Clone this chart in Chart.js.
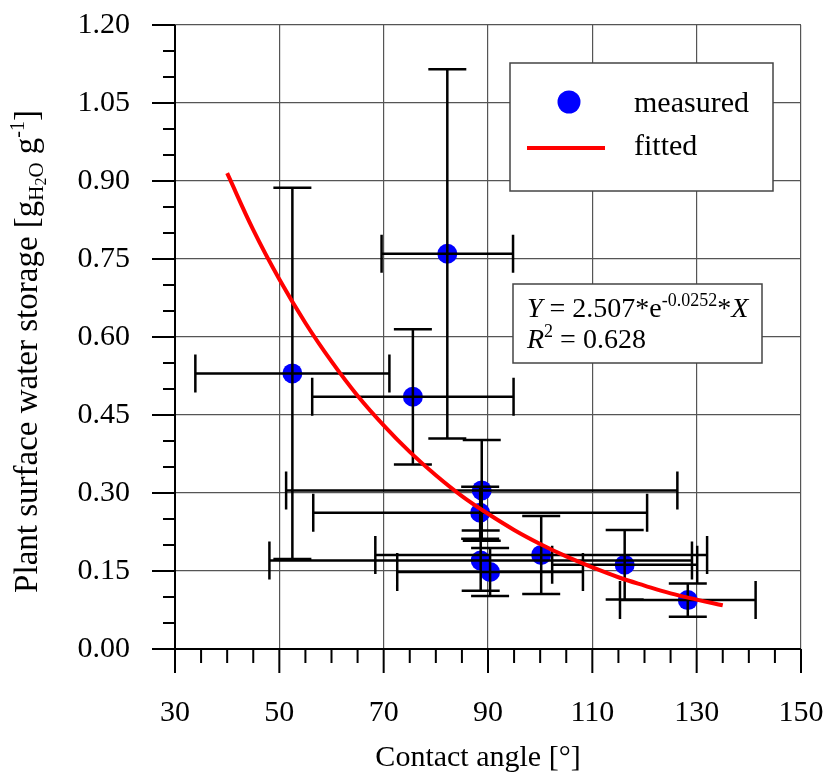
<!DOCTYPE html>
<html>
<head>
<meta charset="utf-8">
<script src="https://cdn.jsdelivr.net/npm/chart.js@4.4.1/dist/chart.umd.min.js"></script>
<style>
  html, body { margin: 0; padding: 0; background: #fff; }
</style>
</head>
<body>
<canvas id="chart" width="828" height="775"></canvas>
<script>
// measured points (contact angle in degrees, storage in g/g) with half-width error bars
const contactAngle = [52.5, 75.6, 82.2, 88.8, 88.5, 88.6, 100.2, 116.2, 90.4, 128.3];
const waterStorage = [0.530, 0.485, 0.760, 0.305, 0.262, 0.170, 0.181, 0.162, 0.148, 0.094];
const angleErr = [18.6, 19.3, 12.6, 37.5, 32.0, 40.5, 31.8, 13.9, 17.8, 13.0];
const storageErr = [0.357, 0.130, 0.355, 0.097, 0.050, 0.058, 0.075, 0.067, 0.046, 0.032];

// fitted curve
const fitAngle = [40, 45, 50, 55, 60, 65, 70, 75, 80, 85, 90, 95, 100, 105, 110, 115, 120, 125, 130, 135];
const fitStorage = [0.915, 0.806, 0.711, 0.627, 0.553, 0.487, 0.430, 0.379, 0.334, 0.294,
                    0.260, 0.229, 0.202, 0.178, 0.157, 0.138, 0.122, 0.107, 0.095, 0.084];

const xTicks = [30, 50, 70, 90, 110, 130, 150];
const yTicks = [0, 0.15, 0.30, 0.45, 0.60, 0.75, 0.90, 1.05, 1.20];

const FONT = '"Liberation Serif", "Times New Roman", serif';

function richText(ctx, x, y, parts, measureOnly) {
    let w = 0;
    parts.forEach(p => {
        ctx.font = (p.italic ? 'italic ' : '') + p.size + 'px ' + FONT;
        if (!measureOnly) ctx.fillText(p.t, x + w, y + (p.dy || 0));
        w += ctx.measureText(p.t).width;
    });
    return w;
}

// drop the label padding chart.js adds round the plot, the layout padding sets the area
function noPad(s) {
    s.paddingTop = 0; s.paddingBottom = 0; s.paddingLeft = 0; s.paddingRight = 0;
}

const decor = {
    id: 'decor',
    afterDatasetDraw(chart, args) {
        if (args.index !== 0) return;
        const ctx = chart.ctx, xs = chart.scales.x, ys = chart.scales.y;
        const cap = 19;
        ctx.save();
        ctx.strokeStyle = '#000';
        ctx.lineWidth = 2.5;
        ctx.beginPath();
        contactAngle.forEach((a, i) => {
            const px = xs.getPixelForValue(a), py = ys.getPixelForValue(waterStorage[i]);
            const x1 = xs.getPixelForValue(a - angleErr[i]), x2 = xs.getPixelForValue(a + angleErr[i]);
            const y1 = ys.getPixelForValue(waterStorage[i] + storageErr[i]);
            const y2 = ys.getPixelForValue(waterStorage[i] - storageErr[i]);
            ctx.moveTo(x1, py); ctx.lineTo(x2, py);
            ctx.moveTo(x1, py - cap); ctx.lineTo(x1, py + cap);
            ctx.moveTo(x2, py - cap); ctx.lineTo(x2, py + cap);
            ctx.moveTo(px, y1); ctx.lineTo(px, y2);
            ctx.moveTo(px - cap, y1); ctx.lineTo(px + cap, y1);
            ctx.moveTo(px - cap, y2); ctx.lineTo(px + cap, y2);
        });
        ctx.stroke();
        ctx.restore();
    },
    afterDraw(chart) {
        const ctx = chart.ctx, xs = chart.scales.x, ys = chart.scales.y;
        const a = chart.chartArea;
        ctx.save();
        // axes with outside ticks
        ctx.strokeStyle = '#000';
        ctx.lineWidth = 2;
        ctx.beginPath();
        ctx.moveTo(a.left, a.top); ctx.lineTo(a.left, a.bottom);
        ctx.moveTo(a.left, a.bottom); ctx.lineTo(a.right, a.bottom);
        for (let v = 30; v <= 150; v += 5) {
            const p = xs.getPixelForValue(v);
            ctx.moveTo(p, a.bottom); ctx.lineTo(p, a.bottom + (v % 20 === 10 ? 24 : 14));
        }
        for (let k = 0; k <= 24; k++) {
            const p = ys.getPixelForValue(k * 0.05);
            ctx.moveTo(a.left, p); ctx.lineTo(a.left - (k % 3 === 0 ? 23 : 12), p);
        }
        ctx.stroke();

        ctx.fillStyle = '#000';
        ctx.textBaseline = 'alphabetic';
        // x title
        ctx.font = '30px ' + FONT;
        ctx.textAlign = 'center';
        ctx.fillText('Contact angle [\u00b0]', 478, 766);
        ctx.textAlign = 'left';

        // y title, rotated
        const yParts = [
            { t: 'Plant surface water storage [g', size: 33 },
            { t: 'H', size: 21, dy: 6 },
            { t: '2', size: 16, dy: 9 },
            { t: 'O', size: 21, dy: 6 },
            { t: ' g', size: 33 },
            { t: '-1', size: 20, dy: -13 },
            { t: ']', size: 33 }
        ];
        const tw = richText(ctx, 0, 0, yParts, true);
        ctx.save();
        ctx.translate(37, 110 + tw);
        ctx.rotate(-Math.PI / 2);
        richText(ctx, 0, 0, yParts);
        ctx.restore();

        // legend box
        ctx.fillStyle = '#fff';
        ctx.fillRect(510, 63, 263, 128);
        ctx.strokeStyle = '#444';
        ctx.lineWidth = 1.5;
        ctx.strokeRect(510, 63, 263, 128);
        ctx.fillStyle = '#0000ff';
        ctx.beginPath();
        ctx.arc(569, 102, 11.5, 0, Math.PI * 2);
        ctx.fill();
        ctx.strokeStyle = '#ff0000';
        ctx.lineWidth = 4;
        ctx.beginPath();
        ctx.moveTo(527, 148); ctx.lineTo(605, 148);
        ctx.stroke();
        ctx.fillStyle = '#000';
        ctx.font = '30px ' + FONT;
        ctx.fillText('measured', 634, 112);
        ctx.fillText('fitted', 634, 155);

        // equation box
        ctx.fillStyle = '#fff';
        ctx.fillRect(513, 284, 249, 79);
        ctx.strokeStyle = '#444';
        ctx.lineWidth = 1.5;
        ctx.strokeRect(513, 284, 249, 79);
        ctx.fillStyle = '#000';
        richText(ctx, 527, 317, [
            { t: 'Y', size: 28, italic: true },
            { t: ' = 2.507*e', size: 28 },
            { t: '-0.0252', size: 18, dy: -11 },
            { t: '*', size: 28 },
            { t: 'X', size: 28, italic: true }
        ]);
        richText(ctx, 527, 348, [
            { t: 'R', size: 28, italic: true },
            { t: '2', size: 18, dy: -11 },
            { t: ' = 0.628', size: 28 }
        ]);
        ctx.restore();
    }
};

new Chart(document.getElementById('chart'), {
    type: 'scatter',
    data: {
        datasets: [{
            label: 'measured',
            data: contactAngle.map((a, i) => ({ x: a, y: waterStorage[i] })),
            backgroundColor: '#0000ff',
            borderWidth: 0,
            pointRadius: 10,
            order: 2
        }, {
            label: 'fitted',
            data: fitAngle.map((a, i) => ({ x: a, y: fitStorage[i] })),
            showLine: true,
            borderColor: '#ff0000',
            borderWidth: 4,
            pointRadius: 0,
            tension: 0.4,
            order: 1
        }]
    },
    options: {
        responsive: false,
        animation: false,
        layout: { padding: { left: 0, right: 27, top: 25, bottom: 0 } },
        scales: {
            x: {
                type: 'linear',
                min: 30,
                max: 150,
                afterFit: s => { s.height = 126; noPad(s); },
                afterBuildTicks: s => { s.ticks = xTicks.map(v => ({ value: v })); },
                grid: { color: '#555', lineWidth: 1.2, drawTicks: false },
                border: { display: false },
                ticks: { color: '#000', font: { family: FONT, size: 30 }, padding: 46, maxRotation: 0 }
            },
            y: {
                min: 0,
                max: 1.2,
                afterFit: s => { s.width = 175; noPad(s); },
                afterBuildTicks: s => { s.ticks = yTicks.map(v => ({ value: v })); },
                grid: { color: '#555', lineWidth: 1.2, drawTicks: false },
                border: { display: false },
                ticks: {
                    color: '#000', font: { family: FONT, size: 30 }, padding: 45,
                    callback: v => v.toFixed(2)
                }
            }
        },
        plugins: {
            legend: { display: false },
            tooltip: { enabled: false }
        }
    },
    plugins: [decor]
});
</script>
</body>
</html>
